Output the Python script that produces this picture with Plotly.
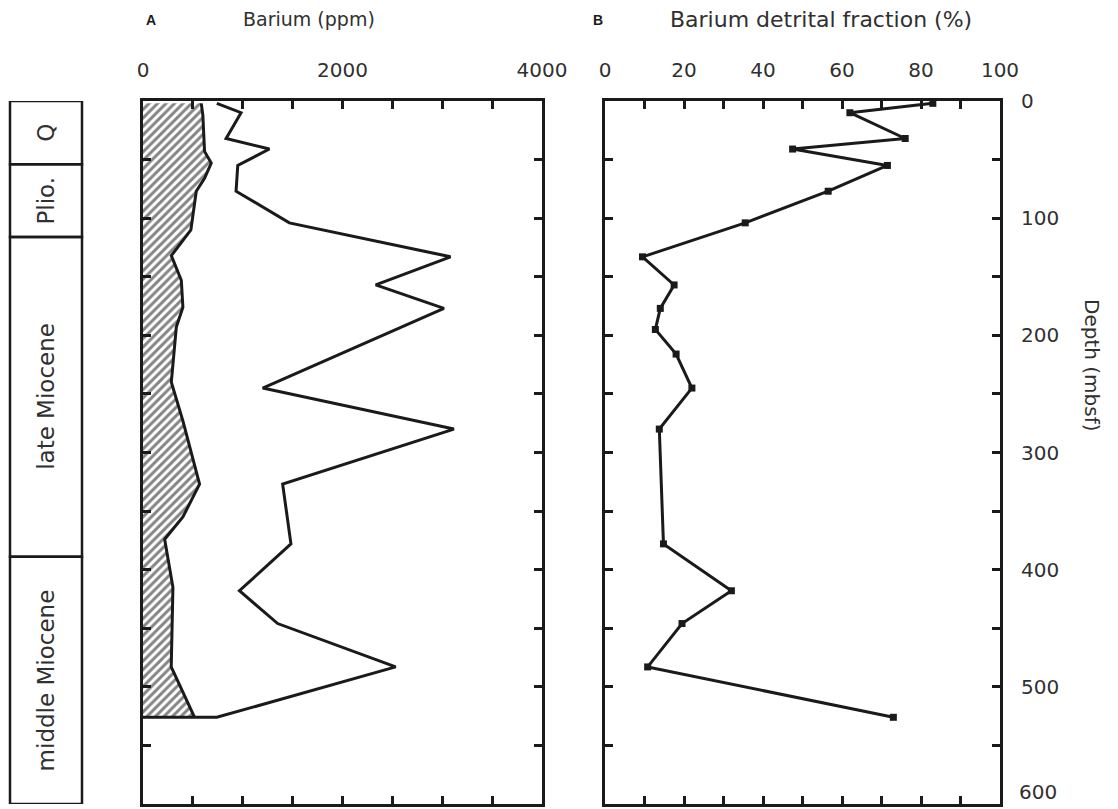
import plotly.graph_objects as go

# ---------------- data ----------------
# Panel A: total barium (ppm)
ba_total_depth = [2, 10, 32, 41, 55, 77, 104, 133, 157, 177, 245, 280, 327, 378, 418, 446, 483, 526]
ba_total = [740, 983, 833, 1267, 950, 933, 1467, 3083, 2333, 3017, 1200, 3117, 1400, 1483, 967, 1350, 2533, 740]

# Panel A: detrital barium (ppm) -> hatched area
ba_det_depth = [2, 12, 43, 53, 66, 77, 110, 132, 153, 176, 193, 221, 240, 273, 327, 355, 374, 415, 483, 526]
ba_det = [584, 600, 617, 684, 617, 534, 480, 284, 384, 400, 334, 300, 284, 400, 567, 400, 217, 300, 283, 517]

# Panel B: barium detrital fraction (%)
frac_depth = [2, 10, 32, 41, 55, 77, 104, 133, 157, 177, 195, 216, 245, 280, 378, 418, 446, 483, 526]
frac = [83, 62, 76, 47.5, 71.5, 56.5, 35.5, 9.5, 17.5, 14, 12.75, 18, 22, 13.75, 14.8, 32, 19.5, 10.8, 73]

# Stratigraphic column
strat_names = ["Q", "Plio.", "late Miocene", "middle Miocene"]
strat_top = [0, 54, 116, 389]
strat_bottom = [54, 116, 389, 600]

ticksA = [0, 500, 1000, 1500, 2000, 2500, 3000, 3500, 4000]
ticksA_text = ["0", "", "", "", "2000", "", "", "", "4000"]
ticksB = [0, 10, 20, 30, 40, 50, 60, 70, 80, 90, 100]
ticksB_text = ["0", "", "20", "", "40", "", "60", "", "80", "", "100"]
ticksD = [0, 50, 100, 150, 200, 250, 300, 350, 400, 450, 500, 550, 600]
ticksD_text = ["0", "", "100", "", "200", "", "300", "", "400", "", "500", "", "600"]

# ---------------- layout geometry ----------------
W, H = 1118, 809
def px_x(x):
    return x / W
def px_y(y):
    return (H - y) / H

INK = "#1a1a1a"
TXT = "#303030"
FONT = "DejaVu Sans"

fig = go.Figure()

# hatched detrital area
fig.add_trace(go.Scatter(
    x=ba_det, y=ba_det_depth, xaxis="x", yaxis="y",
    mode="lines", fill="tozerox",
    fillcolor="white",
    fillpattern=dict(shape="/", fgcolor="#0a0a0a", bgcolor="white", size=6, solidity=0.5),
    line=dict(color=INK, width=3), hoverinfo="skip", showlegend=False))

# total barium line (closed down to zero at the last sample depth)
fig.add_trace(go.Scatter(
    x=ba_total + [0], y=ba_total_depth + [ba_total_depth[-1]], xaxis="x", yaxis="y",
    mode="lines", line=dict(color=INK, width=3), showlegend=False))

# detrital fraction
fig.add_trace(go.Scatter(
    x=frac, y=frac_depth, xaxis="x2", yaxis="y2",
    mode="lines+markers", line=dict(color=INK, width=3),
    marker=dict(symbol="square", size=7, color=INK), showlegend=False))

axis_common = dict(showline=True, linewidth=3, linecolor=INK, mirror="ticks",
                   ticks="inside", ticklen=8, tickwidth=2.5, tickcolor=INK,
                   showgrid=False, zeroline=False, automargin=False,
                   tickfont=dict(family=FONT, size=20, color=TXT))

# the bottom depth label is drawn separately (it would fall off the page edge)
right_text = ticksD_text[:-1] + [""]

fig.update_layout(
    width=W, height=H,
    margin=dict(l=0, r=0, t=0, b=0, pad=0, autoexpand=False),
    paper_bgcolor="white", plot_bgcolor="white",
    showlegend=False,
    xaxis=dict(domain=[px_x(143), px_x(542)], range=[0, 4000], side="top",
               tickmode="array", tickvals=ticksA, ticktext=ticksA_text,
               ticklabelstandoff=13, anchor="y", **axis_common),
    yaxis=dict(domain=[px_y(804), px_y(101)], range=[600, 0],
               tickmode="array", tickvals=ticksD, showticklabels=False,
               anchor="x", **axis_common),
    xaxis2=dict(domain=[px_x(605), px_x(1000)], range=[0, 100], side="top",
                tickmode="array", tickvals=ticksB, ticktext=ticksB_text,
                ticklabelstandoff=13, anchor="y2", **axis_common),
    yaxis2=dict(domain=[px_y(804), px_y(101)], range=[600, 0], side="right",
                tickmode="array", tickvals=ticksD, ticktext=right_text,
                ticklabelstandoff=14, anchor="x2", **axis_common),
)

fig.add_annotation(xref="x2", yref="y2", x=100, y=ticksD[-1], text=ticksD_text[-1],
                   showarrow=False, xanchor="left", yanchor="bottom", xshift=17, yshift=-2,
                   font=dict(family=FONT, size=20, color=TXT))

# stratigraphic column boxes and labels
for name, t, b in zip(strat_names, strat_top, strat_bottom):
    fig.add_shape(type="rect", xref="paper", yref="y",
                  x0=px_x(10), x1=px_x(82), y0=t, y1=b,
                  line=dict(color=INK, width=2.5), fillcolor="rgba(0,0,0,0)")
    fig.add_annotation(xref="paper", yref="y", x=px_x(46), y=(t + b) / 2, text=name,
                       textangle=-90, showarrow=False,
                       xanchor="center", yanchor="middle",
                       font=dict(family=FONT, size=23, color=TXT))

def title(x, y, text, size=20, family=FONT, color=TXT, angle=0):
    fig.add_annotation(xref="paper", yref="paper", x=px_x(x), y=px_y(y), text=text,
                       textangle=angle, showarrow=False, xanchor="center", yanchor="middle",
                       font=dict(family=family, size=size, color=color))

title(151, 20, "<b>A</b>", size=14, family="Liberation Sans", color=INK)
title(309, 19, "Barium (ppm)", size=19)
title(598, 20, "<b>B</b>", size=14, family="Liberation Sans", color=INK)
title(821, 19, "Barium detrital fraction (%)", size=22)
title(1092, 365, "Depth (mbsf)", size=20, angle=90)

fig.write_html("out.html")
